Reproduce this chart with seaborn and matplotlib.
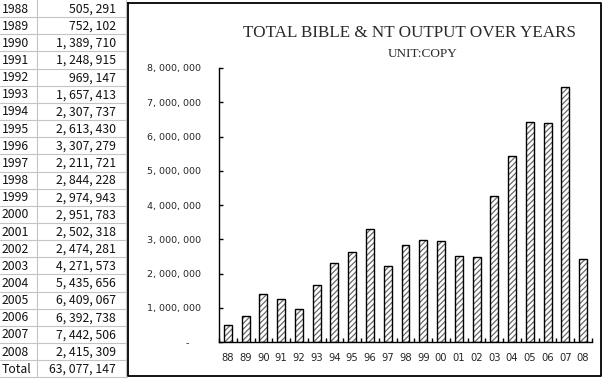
import matplotlib
matplotlib.use("Agg")
import matplotlib.pyplot as plt
import seaborn as sns
import pandas as pd
from matplotlib.lines import Line2D
from matplotlib.ticker import FixedLocator, FuncFormatter

# ---- data ----
years = [1988, 1989, 1990, 1991, 1992, 1993, 1994, 1995, 1996, 1997, 1998,
         1999, 2000, 2001, 2002, 2003, 2004, 2005, 2006, 2007, 2008]
year_labels = ["88", "89", "90", "91", "92", "93", "94", "95", "96", "97", "98",
               "99", "00", "01", "02", "03", "04", "05", "06", "07", "08"]
copies = [505291, 752102, 1389710, 1248915, 969147, 1657413, 2307737,
          2613430, 3307279, 2211721, 2844228, 2974943, 2951783, 2502318,
          2474281, 4271573, 5435656, 6409067, 6392738, 7442506, 2415309]
total_label = "Total"
total_value = 63077147
title = "TOTAL BIBLE & NT OUTPUT OVER YEARS"
subtitle = "UNIT:COPY"
yticks = [0, 1000000, 2000000, 3000000, 4000000, 5000000, 6000000, 7000000, 8000000]

W, H = 602, 380
sns.set_style("white")
plt.rcParams["font.family"] = ["Noto Sans CJK JP", "DejaVu Sans"]
plt.rcParams["hatch.linewidth"] = 0.9

fig = plt.figure(figsize=(W / 100, H / 100), dpi=100)


def fx(x):
    return x / W


def fy(y):
    return 1 - y / H


def fmt_num(v):
    return f"{v:,}".replace(",", ", ")


# ---- table on the left ----
row_h = 17.15
grid_col = "#c4c4c4"
rows = [(str(y), fmt_num(v)) for y, v in zip(years, copies)] + [(total_label, fmt_num(total_value))]
for i, (lab, val) in enumerate(rows):
    yc = row_h * (i + 0.5) + 0.5
    fig.text(fx(1.5), fy(yc), lab, ha="left", va="center", fontsize=8.8, color="#111111")
    fig.text(fx(116), fy(yc), val, ha="right", va="center", fontsize=8.8, color="#111111")
    yb = row_h * (i + 1)
    fig.add_artist(Line2D([fx(0), fx(127)], [fy(yb), fy(yb)], transform=fig.transFigure,
                          color=grid_col, lw=0.8))
fig.add_artist(Line2D([fx(37), fx(37)], [fy(0), fy(row_h * len(rows))], transform=fig.transFigure,
                      color=grid_col, lw=0.8))
fig.add_artist(Line2D([fx(126), fx(126)], [fy(0), fy(row_h * len(rows))], transform=fig.transFigure,
                      color=grid_col, lw=0.8))

# ---- chart box ----
bx0, by0, bx1, by1 = 127.5, 2.5, 600.5, 376
fig.add_artist(Line2D([fx(bx0), fx(bx1), fx(bx1), fx(bx0), fx(bx0)],
                      [fy(by0), fy(by0), fy(by1), fy(by1), fy(by0)],
                      transform=fig.transFigure, color="black", lw=1.3))

# ---- bar chart ----
ax = fig.add_axes([fx(219), fy(342), fx(592) - fx(219), (342 - 68) / H])
ax.set_facecolor("none")
df = pd.DataFrame({"year": year_labels, "copies": copies})
sns.barplot(data=df, x="year", y="copies", ax=ax, color="white", saturation=1,
            edgecolor="#6a6a6a", hatch="//////", linewidth=0, width=0.45, errorbar=None)
n_first = len(ax.patches)
sns.barplot(data=df, x="year", y="copies", ax=ax, color="white", saturation=1,
            edgecolor="black", linewidth=1.0, width=0.45, errorbar=None)
for p in ax.patches[n_first:]:
    p.set_facecolor("none")

ax.set_xlim(-0.5, len(years) - 0.5)
ax.set_ylim(0, 8000000)
ax.set_xlabel("")
ax.set_ylabel("")
for s in ["top", "right"]:
    ax.spines[s].set_visible(False)
for s in ["left", "bottom"]:
    ax.spines[s].set_color("black")
    ax.spines[s].set_linewidth(1.0)

ax.yaxis.set_major_locator(FixedLocator(yticks))
ax.yaxis.set_major_formatter(FuncFormatter(lambda v, p: "-    " if v == 0 else fmt_num(int(v))))
ax.tick_params(axis="y", which="major", direction="in", length=3, width=1, labelsize=6.8,
               pad=13, left=True, color="black")
ax.tick_params(axis="x", which="major", length=0, labelsize=7.2, pad=8)
ax.set_xticks(range(len(year_labels)))
ax.set_xticklabels(year_labels)
ax.xaxis.set_minor_locator(FixedLocator([k + 0.5 for k in range(-1, len(years))]))
ax.tick_params(axis="x", which="minor", direction="in", length=3, width=1, bottom=True, color="black")
for t in ax.get_yticklabels() + ax.get_xticklabels():
    t.set_family(["DejaVu Sans"])

# ---- titles ----
fig.text(fx(409), fy(33), title, ha="center", va="center", fontsize=12.3,
         family=["Liberation Serif"], color="#2a2a2a")
fig.text(fx(423), fy(54), subtitle, ha="center", va="center", fontsize=9.5,
         family=["Liberation Serif"], color="#2a2a2a")

fig.savefig("out.png", dpi=100)
